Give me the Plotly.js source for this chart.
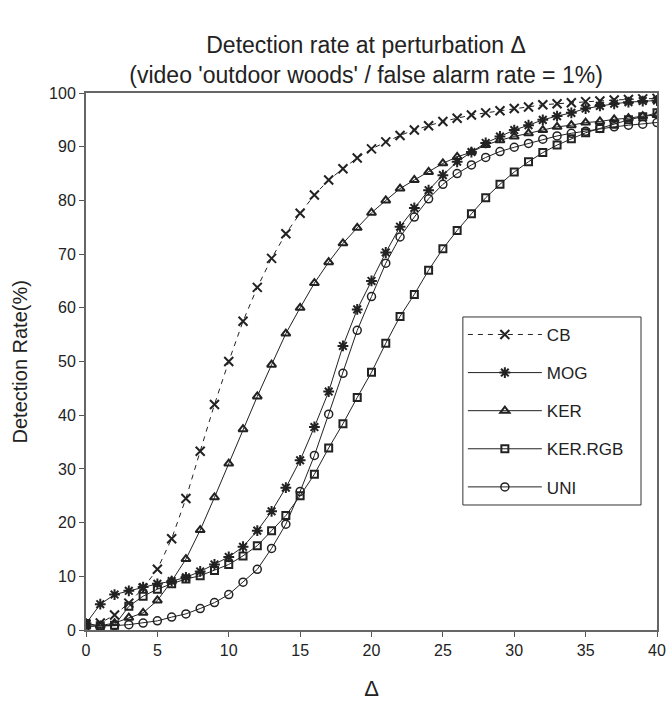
<!DOCTYPE html>
<html>
<head>
<meta charset="utf-8">
<script src="https://cdn.plot.ly/plotly-3.0.1.min.js"></script>
<style>html,body{margin:0;padding:0;background:#fff;}#chart{width:668px;height:707px;}</style>
</head>
<body>
<div id="chart"></div>
<script>
const delta = [0,1,2,3,4,5,6,7,8,9,10,11,12,13,14,15,16,17,18,19,20,21,22,23,24,25,26,27,28,29,30,31,32,33,34,35,36,37,38,39,40];
const cb     = [1.0,1.3,2.8,5.0,7.8,11.3,17.0,24.5,33.3,42.0,50.0,57.5,63.8,69.2,73.8,77.6,81.0,83.8,85.9,87.9,89.6,90.9,92.1,93.1,93.9,94.7,95.3,95.9,96.3,96.7,97.1,97.4,97.8,98.0,98.2,98.4,98.5,98.7,98.8,98.9,99.0];
const mog    = [1.2,4.8,6.6,7.3,8.0,8.6,9.1,9.8,10.9,12.2,13.6,15.5,18.5,22.1,26.5,31.6,37.8,44.4,52.9,59.7,65.0,70.3,75.1,78.6,81.9,84.7,87.2,89.0,90.7,91.9,93.1,94.0,95.0,95.7,96.3,97.1,97.6,98.0,98.3,98.5,98.6];
const ker    = [0.7,0.8,1.3,2.3,3.2,5.5,9.1,13.2,18.6,24.7,31.0,37.4,43.5,49.4,55.2,60.0,64.6,68.5,72.0,74.9,77.7,80.0,82.2,83.8,85.3,86.9,88.1,89.0,90.3,91.2,91.9,92.5,93.1,93.7,94.0,94.5,94.7,95.1,95.3,95.7,95.9];
const kerRgb = [1.2,0.8,0.9,4.4,6.3,7.6,8.6,9.5,10.1,11.1,12.2,13.8,15.7,18.5,21.3,25.0,29.0,33.9,38.4,43.3,48.0,53.4,58.4,62.5,67.0,71.0,74.4,77.5,80.5,83.0,85.3,87.2,88.9,90.3,91.5,92.6,93.4,94.2,95.0,95.6,96.3];
const uni    = [0.7,0.7,0.8,1.0,1.3,1.7,2.4,3.0,4.0,5.1,6.6,8.9,11.3,15.2,19.7,25.8,32.5,40.2,47.8,55.8,62.1,68.3,73.2,76.9,80.3,83.0,85.0,86.6,88.0,89.1,89.9,90.6,91.4,92.0,92.5,92.9,93.4,93.7,94.0,94.2,94.5];
const names = ['CB','MOG','KER','KER.RGB','UNI'];

const ink = '#222';
function tr(y, name, symbol, size, dash, mlw) {
  return {
    x: delta, y: y, name: name, type: 'scatter', mode: 'lines+markers',
    legendgroup: name,
    line: {color: ink, width: 1, dash: dash},
    marker: {symbol: symbol, size: size, color: ink, line: {color: ink, width: mlw}}
  };
}
const data = [
  tr(cb, names[0], 'x-thin-open', 9, '5px,5px', 2),
  tr(mog, names[1], 'asterisk-open', 9, 'solid', 2),
  tr(ker, names[2], 'triangle-up-open', 8, 'solid', 2),
  tr(kerRgb, names[3], 'square-open', 7, 'solid', 2),
  tr(uni, names[4], 'circle-open', 8, 'solid', 1.5)
];

const layout = {
  width: 668, height: 707,
  margin: {l: 86, r: 11, t: 93, b: 77},
  paper_bgcolor: '#fff', plot_bgcolor: '#fff',
  font: {family: 'Liberation Sans, Arial, sans-serif', color: ink, size: 16},
  title: {
    text: "Detection rate at perturbation Δ<br>(video 'outdoor woods' / false alarm rate = 1%)",
    font: {size: 23, color: ink},
    x: 0.548, xanchor: 'center', xref: 'container',
    y: 0.925, yanchor: 'middle', yref: 'container'
  },
  xaxis: {
    range: [0, 40], dtick: 5, tick0: 0,
    showgrid: false, zeroline: false,
    showline: true, mirror: true, linecolor: '#666', linewidth: 2,
    ticks: 'outside', ticklen: 5, tickcolor: '#555', tickwidth: 1,
    tickfont: {size: 16, color: ink},
    title: {text: 'Δ', font: {size: 22, color: ink}, standoff: 22}
  },
  yaxis: {
    range: [0, 100], dtick: 10, tick0: 0,
    showgrid: false, zeroline: false,
    showline: true, mirror: true, linecolor: '#666', linewidth: 2,
    ticks: 'outside', ticklen: 5, tickcolor: '#555', tickwidth: 1,
    tickfont: {size: 16, color: ink}
  },
  annotations: [{
    text: 'Detection Rate(%)', textangle: -90,
    xref: 'paper', yref: 'paper', x: -0.1156, y: 0.5,
    xanchor: 'center', yanchor: 'middle', showarrow: false,
    font: {size: 20, color: ink}
  }],
  shapes: [{
    type: 'rect', xref: 'paper', yref: 'paper',
    x0: 0.660, x1: 0.972, y0: 0.2328, y1: 0.5829,
    line: {color: '#333', width: 1}, fillcolor: '#fff', layer: 'above'
  }],
  showlegend: true,
  legend: {
    x: 0.66, y: 0.583, xanchor: 'left', yanchor: 'top',
    bgcolor: 'rgba(0,0,0,0)', borderwidth: 0,
    font: {size: 17, color: ink},
    traceorder: 'grouped', tracegroupgap: 13,
    itemwidth: 74
  }
};

Plotly.newPlot('chart', data, layout, {displayModeBar: false, staticPlot: true});
</script>
</body>
</html>
